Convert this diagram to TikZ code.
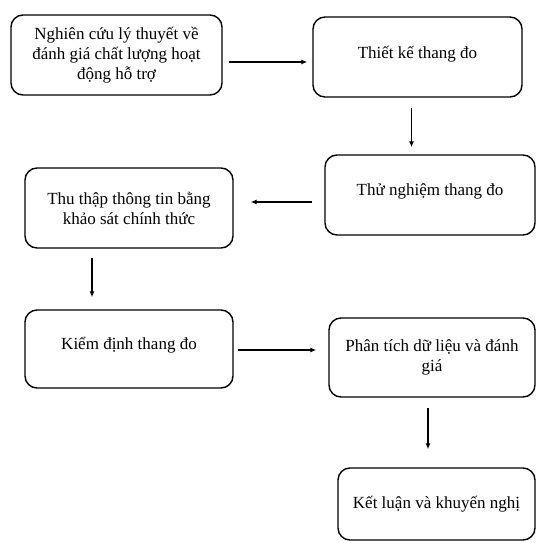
\documentclass[tikz,border=0pt]{standalone}
\usepackage{fontspec}
\setmainfont{Liberation Serif}
\usetikzlibrary{arrows.meta}

\begin{document}
\begin{tikzpicture}[x=1pt,y=-1pt]
    \tikzset{stepbox/.style = {shape=rectangle, draw, line width=1.4pt, rounded corners=12pt, align=center, font=\fontsize{17}{20}\selectfont, inner sep=0pt}}
    \tikzset{arr/.style = {draw, line width=1.4pt, -{Latex[length=6pt,width=5pt]}}}
    \useasboundingbox (0,0) rectangle (537,543);
    % boxes
    \node[stepbox, minimum width=211pt, minimum height=80pt] (lt) at (116.5,55) {Nghiên cứu lý thuyết về\\đánh giá chất lượng hoạt\\động hỗ trợ};
    \node[stepbox, minimum width=209pt, minimum height=80pt, text depth=10pt] (tk) at (417.5,57) {Thiết kế thang đo};
    \node[stepbox, minimum width=210pt, minimum height=80pt, text depth=10pt] (tn) at (430,195) {Thử nghiệm thang đo};
    \node[stepbox, minimum width=208pt, minimum height=80pt] (tt) at (129,208) {Thu thập thông tin bằng\\khảo sát chính thức};
    \node[stepbox, minimum width=208pt, minimum height=78pt, text depth=12pt] (kd) at (129,349) {Kiểm định thang đo};
    \node[stepbox, minimum width=206pt, minimum height=79pt] (pt) at (432,357.5) {Phân tích dữ liệu và đánh\\giá};
    \node[stepbox, minimum width=197pt, minimum height=72pt] (kl) at (436.5,504) {Kết luận và khuyến nghị};
    % arrows
    \draw[arr, shorten >=5pt] ([shift={(6,7)}]lt.east) coordinate (a1) -- (a1 -| tk.west);
    \draw[arr, shorten >=7pt] ([shift={(-6,10)}]tk.south) coordinate (a2) -- (a2 |- tn.north);
    \draw[arr, shorten >=17pt] ([shift={(-12,7)}]tn.west) coordinate (a3) -- (a3 -| tt.east);
    \draw[arr, shorten >=12pt] ([shift={(-37,9)}]tt.south) coordinate (a4) -- (a4 |- kd.north);
    \draw[arr, shorten >=12pt] ([shift={(4,1)}]kd.east) coordinate (a5) -- (a5 -| pt.west);
    \draw[arr, shorten >=18pt] ([shift={(-4,10)}]pt.south) coordinate (a6) -- (a6 |- kl.north);
\end{tikzpicture}
\end{document}
